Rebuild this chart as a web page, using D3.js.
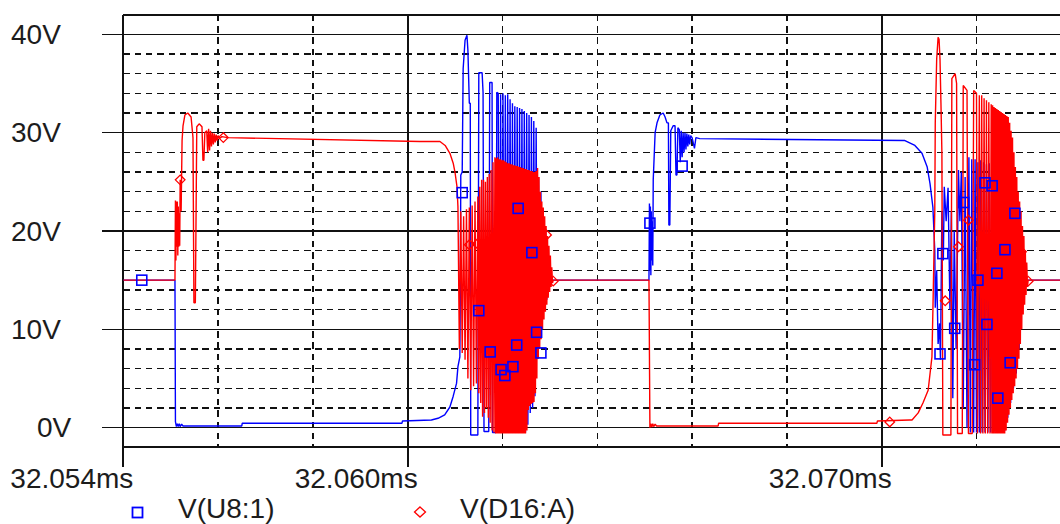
<!DOCTYPE html>
<html><head><meta charset="utf-8">
<script src="https://cdn.jsdelivr.net/npm/d3@7"></script>
<style>
html,body{margin:0;padding:0;background:#fff;}
svg{display:block;font-family:"Liberation Sans",Arial,sans-serif;}
</style></head><body>
<svg id="chart" width="1060" height="524"></svg>
<script>
// ---------------- DATA ----------------
// time is in microseconds after 32.054 ms, voltage in volts
const startMs = 32.054;
const xLabelUs = [0, 6, 16];
const xTickLabels = ["32.054ms", "32.060ms", "32.070ms"];
const xSolidUs = [0, 6, 16];
const xDashedUs = [2, 4, 8, 10, 12, 14, 18, 20];
const yMajor = [0, 10, 20, 30, 40];
const yTickLabels = ["0V", "10V", "20V", "30V", "40V"];
const yMinor = [2, 4, 6, 8, 12, 14, 16, 18, 22, 24, 26, 28, 32, 34, 36, 38];
const seriesNames = ["V(U8:1)", "V(D16:A)"];

// V(U8:1)
const u8Start = [
  [0.00, 15.0], [1.09, 15.0], [1.10, 0.6], [1.12, 0.1], [1.14, 0.4], [1.16, 0.1], [1.18, 0.4], [1.20, 0.1],
  [1.23, 0.35], [1.26, 0.17], [2.50, 0.17], [2.51, 0.45], [5.88, 0.45], [5.89, 0.68], [6.50, 0.78], [6.64, 0.95],
  [6.78, 1.3], [6.89, 2.1], [6.96, 3.2], [7.03, 4.5], [7.06, 6.2], [7.10, 7.2], [7.11, 13.7], [7.12, 25.7],
  [7.15, 26.0], [7.17, 36.5], [7.21, 39.4], [7.25, 39.9], [7.27, 38.4], [7.30, 33.0], [7.32, 33.0], [7.33, -0.75],
  [7.48, -0.75], [7.50, 36.1], [7.57, 36.1], [7.59, 34.1], [7.61, -0.4], [7.71, -0.4], [7.73, 35.1], [7.78, 35.1],
  [7.79, -0.5], [7.86, -0.5], [7.88, 34.1]
];
const u8Burst1 = [
  [7.910, 34.0], [7.935, -0.5], [7.960, 33.9], [7.985, -0.5], [8.010, 34.0], [8.035, -0.5], [8.060, 33.8],
  [8.085, -0.5], [8.110, 33.9], [8.135, -0.5], [8.160, 33.4], [8.185, -0.5], [8.210, 33.0], [8.235, -0.5],
  [8.260, 32.7], [8.285, -0.5], [8.310, 32.6], [8.335, -0.5], [8.360, 32.5], [8.385, -0.5], [8.410, 32.4],
  [8.435, -0.5], [8.460, 32.2], [8.485, -0.5], [8.510, 32.0], [8.535, 0.3], [8.560, 31.8], [8.585, 1.5],
  [8.610, 31.6], [8.635, 2.0], [8.660, 31.2], [8.685, 3.2], [8.710, 30.5], [8.735, 7.0], [8.760, 25.5],
  [8.785, 9.5], [8.810, 24.0], [8.835, 11.0], [8.860, 22.0], [8.885, 12.0], [8.910, 20.0], [8.935, 13.0],
  [8.960, 17.5], [8.990, 15.0]
];
const u8Middle = [
  [11.09, 15.0], [11.10, 22.8], [11.11, 16.0], [11.12, 22.5], [11.13, 15.5], [11.14, 22.0], [11.15, 17.0],
  [11.16, 21.0], [11.17, 16.5], [11.18, 25.2], [11.22, 30.0], [11.26, 31.0], [11.32, 31.8], [11.39, 32.0],
  [11.43, 31.6], [11.47, 31.0], [11.50, 31.0], [11.51, 20.6], [11.53, 20.6], [11.55, 30.2], [11.60, 30.7],
  [11.64, 30.7], [11.66, 25.7], [11.68, 25.7], [11.70, 30.5], [11.73, 30.3], [11.75, 27.0], [11.77, 30.2],
  [11.79, 27.5], [11.81, 30.0], [11.83, 28.0], [11.85, 30.0], [11.87, 28.3], [11.89, 29.9], [11.91, 28.6],
  [11.93, 29.8], [11.95, 28.8], [11.97, 29.7], [12.00, 29.5], [12.05, 28.4], [12.08, 29.5], [12.16, 29.4],
  [16.49, 29.2], [16.70, 28.7], [16.85, 27.9], [16.96, 26.5], [17.02, 24.8], [17.08, 22.4], [17.12, 18.0]
];
const u8Burst2 = [
  [17.13, 12.2], [17.16, 16.0], [17.19, 8.5], [17.22, 10.6], [17.24, 6.9], [17.27, 22.0], [17.30, 17.0],
  [17.32, 24.5], [17.36, 21.0], [17.40, 24.4], [17.44, 12.0], [17.47, 22.0], [17.50, 3.0], [17.53, 20.0],
  [17.57, 8.0], [17.62, 26.2], [17.65, 21.0], [17.68, 26.0], [17.72, 2.0], [17.76, 25.5], [17.80, 0.0],
  [17.84, 27.5], [17.87, -0.5], [17.90, 27.3], [17.94, -0.5], [17.97, 27.3], [18.00, -0.5], [18.03, 27.0],
  [18.06, -0.5], [18.09, 27.2], [18.12, -0.5], [18.15, 27.0], [18.18, -0.5], [18.21, 26.8], [18.24, -0.5],
  [18.27, 26.9], [18.30, -0.5], [18.33, 26.6], [18.36, -0.5], [18.39, 26.5], [18.42, -0.5], [18.45, 26.4],
  [18.48, -0.5], [18.51, 26.3], [18.54, -0.5], [18.57, 26.2], [18.60, -0.3], [18.63, 26.0], [18.66, 1.0],
  [18.69, 25.5], [18.72, 2.5], [18.75, 24.0], [18.78, 4.0], [18.81, 22.0], [18.84, 5.5], [18.87, 20.0],
  [18.90, 8.0], [18.93, 18.0], [18.96, 12.0], [19.00, 15.0], [20.00, 15.0]
];

// V(D16:A)
const d16Start = [
  [0.00, 15.0], [1.09, 15.0], [1.10, 23.1], [1.11, 17.0], [1.12, 23.0], [1.13, 18.4], [1.14, 23.0], [1.15, 17.5],
  [1.16, 22.5], [1.17, 18.4], [1.18, 21.8], [1.19, 18.5], [1.20, 25.2], [1.22, 22.0], [1.24, 29.2], [1.26, 30.7],
  [1.30, 31.8], [1.36, 32.0], [1.43, 31.6], [1.47, 29.5], [1.49, 12.7], [1.52, 12.7], [1.55, 30.6], [1.60, 30.9],
  [1.66, 30.6], [1.68, 27.2], [1.70, 27.2], [1.72, 30.0], [1.76, 30.2], [1.78, 28.0], [1.80, 30.4], [1.82, 28.2],
  [1.84, 30.2], [1.86, 28.6], [1.88, 30.0], [1.90, 28.8], [1.92, 29.9], [1.94, 29.0], [1.96, 29.8], [1.98, 29.2],
  [2.00, 29.7], [2.03, 29.4], [2.08, 29.6], [2.20, 29.5], [6.26, 29.1], [6.68, 29.1], [6.79, 28.7], [6.89, 27.9],
  [6.96, 26.9], [7.00, 25.9], [7.04, 24.5], [7.06, 22.5]
];
const d16Burst1 = [
  [7.09, 8.0], [7.12, 22.0], [7.15, 7.6], [7.18, 21.5], [7.21, 6.9], [7.24, 22.2], [7.27, 5.0], [7.30, 22.4],
  [7.33, 3.8], [7.36, 22.6], [7.39, 4.2], [7.42, 23.0], [7.45, 4.5], [7.48, 23.5], [7.50, 3.5], [7.52, 24.5],
  [7.54, 2.5], [7.56, 25.2], [7.58, 1.1], [7.60, 25.2], [7.62, 1.5], [7.64, 25.0], [7.66, 2.0], [7.68, 25.5],
  [7.70, 1.0], [7.72, 25.8], [7.74, 0.5], [7.76, 26.2], [7.78, -0.3], [7.80, 27.0], [7.82, -0.5], [7.84, 27.5],
  [7.855, -0.6], [7.870, 27.4], [7.885, -0.6], [7.900, 27.5], [7.915, -0.6], [7.930, 27.3], [7.945, -0.6],
  [7.960, 27.3], [7.975, -0.6], [7.990, 27.2], [8.005, -0.6], [8.020, 27.2], [8.035, -0.6], [8.050, 27.1],
  [8.065, -0.6], [8.080, 27.0], [8.095, -0.6], [8.110, 26.9], [8.125, -0.6], [8.140, 26.9], [8.155, -0.6],
  [8.170, 26.8], [8.185, -0.6], [8.200, 26.8], [8.215, -0.6], [8.230, 26.7], [8.245, -0.6], [8.260, 26.7],
  [8.275, -0.6], [8.290, 26.6], [8.305, -0.6], [8.320, 26.6], [8.335, -0.6], [8.350, 26.5], [8.365, -0.6],
  [8.380, 26.5], [8.395, -0.6], [8.410, 26.4], [8.425, -0.6], [8.440, 26.4], [8.455, -0.6], [8.470, 26.3],
  [8.485, -0.6], [8.500, 26.3], [8.515, -0.3], [8.530, 26.2], [8.545, 1.8], [8.560, 26.2], [8.575, 2.2],
  [8.590, 26.1], [8.605, 2.4], [8.620, 26.1], [8.635, 2.5], [8.650, 26.0], [8.665, 2.6], [8.680, 26.0],
  [8.695, 3.5], [8.710, 26.1], [8.725, 5.0], [8.740, 26.4], [8.755, 7.0], [8.770, 25.5], [8.785, 8.0],
  [8.800, 24.0], [8.815, 9.0], [8.830, 23.0], [8.845, 10.0], [8.860, 22.4], [8.875, 11.0], [8.890, 21.5],
  [8.905, 11.8], [8.920, 20.5], [8.935, 12.5], [8.950, 19.5], [8.965, 13.2], [8.980, 18.5], [8.995, 13.8],
  [9.010, 17.5], [9.025, 14.3], [9.040, 16.3], [9.055, 14.7], [9.070, 15.0]
];
const d16Middle = [
  [11.09, 15.0], [11.11, 0.0], [11.13, 0.4], [11.15, 0.05], [11.17, 0.4], [11.19, 0.1], [11.22, 0.35],
  [11.25, 0.17], [12.55, 0.17], [12.56, 0.45], [15.90, 0.45], [15.91, 0.68], [16.59, 0.78], [16.64, 0.78],
  [16.77, 1.5], [16.87, 2.5], [16.98, 3.8], [17.06, 7.2], [17.08, 11.9], [17.12, 22.0]
];
const d16Burst2 = [
  [17.13, 31.0], [17.16, 37.5], [17.19, 39.7], [17.21, 39.5], [17.23, 37.5], [17.25, 33.0], [17.27, 28.0],
  [17.29, -0.75], [17.46, -0.75], [17.48, 35.5], [17.55, 36.0], [17.58, 35.0], [17.60, -0.6], [17.70, -0.6],
  [17.72, 34.8], [17.80, 34.3], [17.83, -0.6], [17.91, -0.6], [17.94, 34.3], [18.00, 34.0], [18.02, -0.6],
  [18.06, 33.8], [18.085, -0.6],
  [18.110, 33.8], [18.135, -0.6], [18.160, 33.5], [18.185, -0.6], [18.210, 33.3], [18.235, -0.6],
  [18.260, 33.1], [18.285, -0.6], [18.310, 32.9], [18.325, -0.6],
  [18.340, 32.8], [18.355, -0.6], [18.370, 32.6], [18.385, -0.6], [18.400, 32.5], [18.415, -0.6],
  [18.430, 32.4], [18.445, -0.6], [18.460, 32.3], [18.475, -0.6], [18.490, 32.2], [18.505, -0.6],
  [18.520, 32.1], [18.535, -0.6], [18.550, 32.0], [18.565, -0.6], [18.580, 31.9], [18.595, -0.6],
  [18.610, 31.8], [18.625, -0.3], [18.640, 31.7], [18.655, 0.5], [18.670, 31.6], [18.685, 1.3],
  [18.700, 31.0], [18.715, 2.0], [18.730, 30.2], [18.745, 2.8], [18.760, 29.5], [18.775, 3.5],
  [18.790, 28.0], [18.805, 4.2], [18.820, 26.5], [18.835, 5.0], [18.850, 25.5], [18.865, 6.0],
  [18.880, 24.0], [18.895, 7.0], [18.910, 23.0], [18.925, 8.5], [18.940, 22.0], [18.955, 10.0],
  [18.970, 20.5], [18.985, 11.5], [19.000, 19.5], [19.015, 12.5], [19.030, 18.0], [19.045, 13.5],
  [19.060, 16.8], [19.075, 14.3], [19.090, 15.0], [20.00, 15.0]
];

const u8Markers = [
  [0.39, 15.0], [7.15, 23.9], [7.50, 11.9], [7.74, 7.7], [8.33, 22.3], [8.62, 17.8], [8.72, 9.7], [8.81, 7.6],
  [8.30, 8.4], [7.97, 5.9], [8.22, 6.2], [8.05, 5.3], [11.11, 20.8], [11.79, 26.6], [18.18, 24.9], [18.33, 24.6],
  [17.73, 22.9], [18.81, 21.8], [18.60, 18.1], [18.43, 15.7], [17.29, 17.7], [18.03, 15.0], [17.54, 10.1],
  [18.22, 10.5], [17.96, 6.4], [18.71, 6.6], [18.45, 3.0], [17.23, 7.5]
];
const d16Markers = [
  [1.20, 25.2], [2.11, 29.5], [7.30, 18.6], [7.47, 18.7], [7.70, 13.0], [8.93, 19.6], [9.07, 14.9],
  [16.17, 0.58], [17.34, 12.9], [17.62, 18.4], [17.83, 21.1], [18.95, 17.9], [19.09, 14.9]
];

const u8Trace = [].concat(u8Start, u8Burst1, u8Middle, u8Burst2);
const d16Trace = [].concat(d16Start, d16Burst1, d16Middle, d16Burst2);

// ---------------- DRAW ----------------
const svg = d3.select("#chart");
const left = 123.3, pxPerUs = 47.4;
const x = d3.scaleLinear().domain([0, 20]).range([left, left + 20 * pxPerUs]);
const y = d3.scaleLinear().domain([-2, 42]).range([447.3, 14.7]);
const ink = "#111";
const blue = "#0000ff", red = "#ff0000";

const grid = svg.append("g").attr("shape-rendering", "crispEdges");
grid.selectAll(".hd").data(yMinor).join("line")
  .attr("x1", x(0)).attr("x2", x(20)).attr("y1", d => y(d)).attr("y2", d => y(d))
  .attr("stroke", ink).attr("stroke-width", 1.6).attr("stroke-dasharray", "6.5,4.8");
grid.selectAll(".vd").data(xDashedUs).join("line")
  .attr("x1", d => x(d)).attr("x2", d => x(d)).attr("y1", y(42)).attr("y2", y(-2))
  .attr("stroke", ink).attr("stroke-width", 1.6).attr("stroke-dasharray", "6.5,4.8");
grid.selectAll(".hs").data(yMajor).join("line")
  .attr("x1", x(0) - 21).attr("x2", x(20)).attr("y1", d => y(d)).attr("y2", d => y(d))
  .attr("stroke", ink).attr("stroke-width", 1.6);
grid.selectAll(".vs").data(xSolidUs).join("line")
  .attr("x1", d => x(d)).attr("x2", d => x(d)).attr("y1", y(42)).attr("y2", y(-2) + 20)
  .attr("stroke", ink).attr("stroke-width", 1.8);
grid.selectAll(".fr").data([42, -2]).join("line")
  .attr("x1", x(0)).attr("x2", x(20)).attr("y1", d => y(d)).attr("y2", d => y(d))
  .attr("stroke", ink).attr("stroke-width", 1.8);

svg.append("clipPath").attr("id", "plotclip").append("rect")
  .attr("x", x(0)).attr("y", y(42)).attr("width", x(20) - x(0)).attr("height", y(-2) - y(42));

const line = d3.line().x(d => x(d[0])).y(d => y(d[1]));
const traces = svg.append("g").attr("clip-path", "url(#plotclip)");
traces.append("path").datum(u8Trace).attr("d", line)
  .attr("fill", "none").attr("stroke", blue).attr("stroke-width", 1.4).attr("stroke-linejoin", "bevel");
traces.append("path").datum(d16Trace).attr("d", line)
  .attr("fill", "none").attr("stroke", red).attr("stroke-width", 1.4).attr("stroke-linejoin", "bevel");

const sq = 10, dm = 4.8;
traces.selectAll(".sq").data(u8Markers).join("rect")
  .attr("x", d => x(d[0]) - sq / 2).attr("y", d => y(d[1]) - sq / 2)
  .attr("width", sq).attr("height", sq)
  .attr("fill", "none").attr("stroke", blue).attr("stroke-width", 1.6);
const diamond = d => {
  const cx = x(d[0]), cy = y(d[1]);
  return `M${cx},${cy - dm}L${cx + dm},${cy}L${cx},${cy + dm}L${cx - dm},${cy}Z`;
};
traces.selectAll(".dm").data(d16Markers).join("path")
  .attr("d", diamond).attr("fill", "none").attr("stroke", red).attr("stroke-width", 1.3);

const txt = "#1c1c1c", fs = 28;
svg.selectAll(".yl").data(yMajor).join("text")
  .attr("x", (d, i) => yTickLabels[i].length === 2 ? 37 : 11)
  .attr("y", d => y(d)).attr("dy", "0.35em")
  .attr("font-size", fs).attr("fill", txt)
  .text((d, i) => yTickLabels[i]);
svg.selectAll(".xl").data(xLabelUs).join("text")
  .attr("x", d => x(d) + 10).attr("y", 488).attr("text-anchor", "end")
  .attr("font-size", fs).attr("fill", txt)
  .text((d, i) => xTickLabels[i]);

// legend
svg.append("rect").attr("x", 132.5).attr("y", 507.5).attr("width", 10).attr("height", 10)
  .attr("fill", "none").attr("stroke", blue).attr("stroke-width", 1.8);
svg.append("text").attr("x", 178).attr("y", 518).attr("font-size", fs).attr("fill", txt).text(seriesNames[0]);
svg.append("path").attr("d", "M420,507L425.5,512L420,517L414.5,512Z")
  .attr("fill", "none").attr("stroke", red).attr("stroke-width", 1.3);
svg.append("text").attr("x", 460).attr("y", 518).attr("font-size", fs).attr("fill", txt).text(seriesNames[1]);
</script>
</body></html>
